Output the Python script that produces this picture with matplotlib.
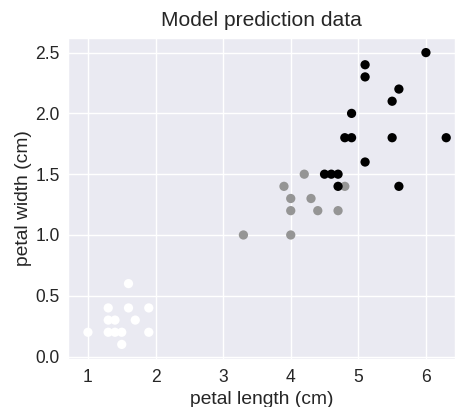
import matplotlib
matplotlib.use('Agg')
import matplotlib.pyplot as plt
import seaborn as sns

sns.set_style('darkgrid')
plt.rcParams['font.family'] = ['Liberation Sans', 'DejaVu Sans']

# predicted class 0 (white), 1 (gray), 2 (black)
petal_length = [1.6, 1.3, 1.6, 1.9, 1.3, 1.4, 1.7, 1.0, 1.3, 1.4, 1.5, 1.9, 1.5,
                4.2, 3.9, 4.8, 4.0, 4.3, 4.0, 4.4, 4.7, 3.3, 4.0,
                4.5, 4.6, 4.7, 4.7, 6.0, 5.1, 5.1, 5.6, 5.5, 4.9, 4.8, 4.9, 5.5, 6.3, 5.1, 5.6]
petal_width = [0.6, 0.4, 0.4, 0.4, 0.3, 0.3, 0.3, 0.2, 0.2, 0.2, 0.2, 0.2, 0.1,
               1.5, 1.4, 1.4, 1.3, 1.3, 1.2, 1.2, 1.2, 1.0, 1.0,
               1.5, 1.5, 1.5, 1.4, 2.5, 2.4, 2.3, 2.2, 2.1, 2.0, 1.8, 1.8, 1.8, 1.8, 1.6, 1.4]
prediction = [0]*13 + [1]*10 + [2]*16

dpi = 126
fig = plt.figure(figsize=(455/dpi, 407/dpi), dpi=dpi)
ax = fig.add_axes([68/455, 1 - 359/407, 1 - 68/455, (359 - 38)/407])
ax.scatter(petal_length, petal_width, c=prediction, cmap='Greys', s=28, linewidths=0)
ax.set_xlim(0.705, 6.43)
ax.set_ylim(-0.02, 2.62)
ax.set_xticks([1, 2, 3, 4, 5, 6])
ax.set_yticks([0.0, 0.5, 1.0, 1.5, 2.0, 2.5])
ax.set_xlabel('petal length (cm)', fontsize=11, labelpad=2.5)
ax.set_ylabel('petal width (cm)', fontsize=11, labelpad=1.7)
ax.set_title('Model prediction data', fontsize=12, pad=7)
ax.tick_params(labelsize=10)
ax.tick_params(axis='x', pad=plt.rcParams['xtick.major.pad'] - 1.1)
ax.tick_params(axis='y', pad=plt.rcParams['ytick.major.pad'] - 2.3)
fig.savefig('out.png', dpi=dpi)
